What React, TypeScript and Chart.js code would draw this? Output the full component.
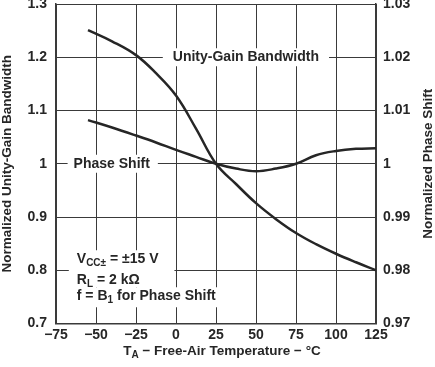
import React, { useEffect, useRef } from "react";
import { Chart, registerables } from "chart.js";

Chart.register(...registerables);

const temperatures = [-55, -40, -25, -12.5, 0, 12.5, 25, 37.5, 50, 62.5, 75, 87.5, 100, 112.5, 125];
const unityGainBandwidth = [1.251, 1.23, 1.204, 1.17, 1.128, 1.066, 1.0, 0.962, 0.926, 0.896, 0.87, 0.849, 0.831, 0.815, 0.8];
const phaseShift = [1.0082, 1.0068, 1.0053, 1.004, 1.0026, 1.0013, 1.0, 0.9991, 0.9986, 0.9991, 1.0, 1.0016, 1.0024, 1.0028, 1.0029];

const xTicks = [-75, -50, -25, 0, 25, 50, 75, 100, 125];
const leftTicks = [0.7, 0.8, 0.9, 1.0, 1.1, 1.2, 1.3];
const rightTicks = [0.97, 0.98, 0.99, 1.0, 1.01, 1.02, 1.03];

const FONT = "'Liberation Sans', Arial, sans-serif";
const INK = "#262626";

type Run = { t: string; sub?: boolean };

function runsWidth(ctx: CanvasRenderingContext2D, runs: Run[], size: number, subSize: number) {
  let w = 0;
  for (const r of runs) {
    ctx.font = `bold ${r.sub ? subSize : size}px ${FONT}`;
    w += ctx.measureText(r.t).width;
  }
  return w;
}

function drawRuns(ctx: CanvasRenderingContext2D, runs: Run[], x: number, y: number, size: number, subSize: number) {
  let cx = x;
  ctx.textBaseline = "middle";
  ctx.textAlign = "left";
  for (const r of runs) {
    ctx.font = `bold ${r.sub ? subSize : size}px ${FONT}`;
    ctx.fillText(r.t, cx, r.sub ? y + 4 : y);
    cx += ctx.measureText(r.t).width;
  }
}

const labelsPlugin = {
  id: "labelsPlugin",
  beforeDatasetsDraw(chart: any) {
    const ctx: CanvasRenderingContext2D = chart.ctx;
    const xs = chart.scales.x;
    const yl = chart.scales.y;
    ctx.save();
    ctx.fillStyle = "#ffffff";
    ctx.font = `bold 14px ${FONT}`;
    const ugbX = xs.getPixelForValue(-2);
    const ugbY = yl.getPixelForValue(1.2);
    const ugbW = ctx.measureText("Unity-Gain Bandwidth").width;
    ctx.fillRect(ugbX - 10, ugbY - 9, ugbW + 20, 18);
    const psX = xs.getPixelForValue(-64);
    const psY = yl.getPixelForValue(1.0);
    const psW = ctx.measureText("Phase Shift").width;
    ctx.fillRect(psX - 6, psY - 9, psW + 14, 18);

    const bx = xs.getPixelForValue(-62);
    const l1 = yl.getPixelForValue(0.8) - 11;
    const l2 = yl.getPixelForValue(0.8) + 10;
    const l3 = l2 + 16;
    const r1: Run[] = [{ t: "V" }, { t: "CC±", sub: true }, { t: " = ±15 V" }];
    const r2: Run[] = [{ t: "R" }, { t: "L", sub: true }, { t: " = 2 kΩ" }];
    const r3: Run[] = [{ t: "f = B" }, { t: "1", sub: true }, { t: " for Phase Shift" }];
    const w3 = runsWidth(ctx, r3, 14, 10);
    ctx.fillStyle = "#ffffff";
    ctx.fillRect(bx - 8, l1 - 9, xs.getPixelForValue(-1) - (bx - 8), l2 - l1 + 16);
    ctx.fillRect(bx - 8, l3 - 9, w3 + 14, 20);

    ctx.fillStyle = INK;
    ctx.font = `bold 14px ${FONT}`;
    ctx.textBaseline = "middle";
    ctx.textAlign = "left";
    ctx.fillText("Unity-Gain Bandwidth", ugbX, ugbY);
    ctx.fillText("Phase Shift", psX, psY);
    drawRuns(ctx, r1, bx, l1, 14, 10);
    drawRuns(ctx, r2, bx, l2, 14, 10);
    drawRuns(ctx, r3, bx, l3, 14, 10);
    ctx.restore();
  },
  afterDraw(chart: any) {
    const ctx: CanvasRenderingContext2D = chart.ctx;
    const area = chart.chartArea;
    ctx.save();
    ctx.fillStyle = INK;
    const xr: Run[] = [{ t: "T" }, { t: "A", sub: true }, { t: " − Free-Air Temperature − °C" }];
    const w = runsWidth(ctx, xr, 13.5, 10);
    const cx = (area.left + area.right) / 2 + 6;
    drawRuns(ctx, xr, cx - w / 2, 351, 13.5, 10);
    const cy = (area.top + area.bottom) / 2;
    ctx.font = `bold 13.5px ${FONT}`;
    ctx.textAlign = "center";
    ctx.textBaseline = "middle";
    ctx.translate(7, cy);
    ctx.rotate(-Math.PI / 2);
    ctx.fillText("Normalized Unity-Gain Bandwidth", 0, 0);
    ctx.restore();
    ctx.save();
    ctx.fillStyle = INK;
    ctx.font = `bold 13.5px ${FONT}`;
    ctx.textAlign = "center";
    ctx.textBaseline = "middle";
    ctx.translate(428, cy);
    ctx.rotate(-Math.PI / 2);
    ctx.fillText("Normalized Phase Shift", 0, 0);
    ctx.restore();
  },
};

export default function App() {
  const ref = useRef<HTMLCanvasElement>(null);
  useEffect(() => {
    document.body.style.margin = "0";
    const canvas = ref.current!;
    const gridColor = "#3a3a3a";
    const chart = new Chart(canvas, {
      type: "line",
      data: {
        datasets: [
          {
            label: "Unity-Gain Bandwidth",
            data: temperatures.map((t, i) => ({ x: t, y: unityGainBandwidth[i] })),
            yAxisID: "y",
            borderColor: INK,
            borderWidth: 2.5,
            pointRadius: 0,
            tension: 0.4,
            fill: false,
          },
          {
            label: "Phase Shift",
            data: temperatures.map((t, i) => ({ x: t, y: phaseShift[i] })),
            yAxisID: "y2",
            borderColor: INK,
            borderWidth: 2.5,
            pointRadius: 0,
            tension: 0.4,
            fill: false,
          },
        ],
      },
      options: {
        animation: false,
        responsive: false,
        devicePixelRatio: 1,
        events: [],
        layout: { padding: { top: 4, left: 0, right: 0, bottom: 0 } },
        plugins: { legend: { display: false }, tooltip: { enabled: false }, title: { display: false } },
        scales: {
          x: {
            type: "linear",
            min: -75,
            max: 125,
            afterBuildTicks: (s: any) => {
              s.ticks = xTicks.map((v) => ({ value: v }));
            },
            ticks: {
              color: INK,
              font: { family: FONT, size: 14, weight: "bold" },
              padding: 3,
              maxRotation: 0,
              autoSkip: false,
              callback: (v: any) => (Number(v) < 0 ? "−" + Math.abs(Number(v)) : String(v)),
            },
            grid: { color: gridColor, lineWidth: 1, drawTicks: false },
            border: { color: gridColor, width: 1.5 },
            afterFit: (s: any) => {
              s.height = 43.5;
              s.paddingLeft = 0;
              s.paddingRight = 0;
            },
          },
          y: {
            type: "linear",
            position: "left",
            min: 0.7,
            max: 1.3,
            afterBuildTicks: (s: any) => {
              s.ticks = leftTicks.map((v) => ({ value: v }));
            },
            ticks: {
              color: INK,
              font: { family: FONT, size: 14, weight: "bold" },
              padding: 9,
              autoSkip: false,
              callback: (v: any) => String(Math.round(Number(v) * 10) / 10),
            },
            grid: { color: gridColor, lineWidth: 1, drawTicks: false },
            border: { color: gridColor, width: 1.5 },
            afterFit: (s: any) => {
              s.width = 56;
              s.paddingTop = 0;
              s.paddingBottom = 0;
            },
          },
          y2: {
            type: "linear",
            position: "right",
            min: 0.97,
            max: 1.03,
            afterBuildTicks: (s: any) => {
              s.ticks = rightTicks.map((v) => ({ value: v }));
            },
            ticks: {
              color: INK,
              font: { family: FONT, size: 14, weight: "bold" },
              padding: 7,
              autoSkip: false,
              callback: (v: any) => String(Math.round(Number(v) * 100) / 100),
            },
            grid: { display: false, drawTicks: false },
            border: { color: gridColor, width: 1.5 },
            afterFit: (s: any) => {
              s.width = 59;
              s.paddingTop = 0;
              s.paddingBottom = 0;
            },
          },
        },
      } as any,
      plugins: [labelsPlugin],
    });
    return () => chart.destroy();
  }, []);
  return (
    <div style={{ width: 435, height: 367 }}>
      <canvas ref={ref} width={435} height={367} style={{ display: "block" }} />
    </div>
  );
}
